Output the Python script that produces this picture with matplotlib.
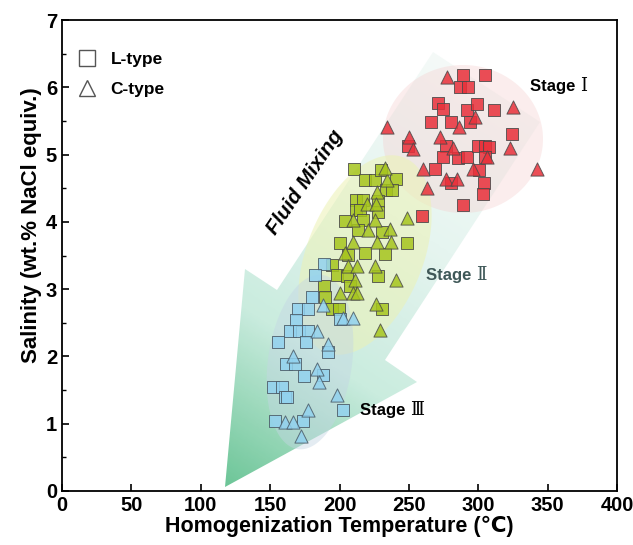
import numpy as np
import matplotlib
matplotlib.use('Agg')
import matplotlib.pyplot as plt
from matplotlib.patches import Polygon
from matplotlib.lines import Line2D
from matplotlib.colors import LinearSegmentedColormap

# Stage I (red)
s1_L_x = [289.1, 304.8, 286.7, 292.7, 271.1, 274.7, 292.0, 299.2, 311.2, 265.9, 280.3, 293.9, 324.0,
          249.5, 276.7, 274.3, 285.5, 292.0, 299.9, 304.8, 307.6, 304.8, 268.7, 300.6, 280.7, 304.2,
          303.5, 289.1, 259.8]
s1_L_y = [6.18, 6.18, 6.01, 6.01, 5.76, 5.67, 5.66, 5.75, 5.66, 5.49, 5.49, 5.49, 5.31,
          5.12, 5.13, 4.97, 4.95, 4.96, 5.12, 5.12, 5.11, 4.96, 4.78, 4.77, 4.58, 4.58,
          4.41, 4.25, 4.08]
s1_C_x = [277.6, 324.7, 234.4, 250.2, 253.1, 286.3, 272.3, 297.6, 281.5, 323.2, 306.4, 260.3, 295.9,
          277.1, 284.8, 263.2, 342.0]
s1_C_y = [6.16, 5.71, 5.41, 5.26, 5.09, 5.41, 5.26, 5.56, 5.10, 5.10, 4.96, 4.79, 4.79,
          4.64, 4.64, 4.50, 4.79]

# Stage II (green)
s2_L_x = [210.4, 218.3, 225.5, 240.4, 233.4, 237.5, 211.8, 217.1, 227.9, 211.8, 214.7, 227.9, 217.1,
          203.9, 230.3, 213.5, 200.3, 218.3, 232.7, 248.8, 194.3, 206.3, 198.3, 205.1, 227.9, 207.5,
          188.8, 189.5, 194.3, 199.5, 230.3, 229.9]
s2_L_y = [4.78, 4.62, 4.62, 4.63, 4.47, 4.47, 4.32, 4.32, 4.31, 4.18, 4.17, 4.15, 4.03,
          4.02, 3.85, 3.88, 3.68, 3.53, 3.52, 3.68, 3.36, 3.51, 3.21, 3.19, 3.19, 3.04,
          3.04, 2.89, 2.71, 2.71, 2.70, 4.77]
s2_C_x = [233.9, 232.7, 226.7, 219.5, 226.2, 209.9, 225.5, 248.8, 220.7, 236.3, 209.9, 226.7, 236.8,
          203.9, 206.3, 212.3, 225.5, 240.4, 211.1, 200.3, 209.9, 212.8, 226.2, 229.1]
s2_C_y = [4.62, 4.80, 4.45, 4.27, 4.27, 4.03, 4.03, 4.05, 3.88, 3.89, 3.70, 3.70, 3.70,
          3.53, 3.34, 3.34, 3.34, 3.14, 3.14, 2.95, 2.94, 2.94, 2.78, 2.39]

# Stage III (blue)
s3_L_x = [188.8, 182.3, 179.9, 170.3, 177.5, 168.4, 164.3, 170.9, 177.5, 155.8, 175.8, 191.4, 161.4,
          167.9, 174.4, 187.8, 152.3, 158.3, 160.7, 162.3, 202.7, 153.4, 173.8, 200.3]
s3_L_y = [3.37, 3.21, 2.88, 2.71, 2.71, 2.54, 2.38, 2.38, 2.38, 2.22, 2.22, 2.06, 1.89,
          1.89, 1.71, 1.72, 1.55, 1.55, 1.39, 1.39, 1.20, 1.04, 1.04, 2.55]
s3_C_x = [188.3, 202.7, 209.9, 183.5, 191.9, 166.7, 183.5, 185.4, 198.3, 177.5, 160.7, 166.2, 172.0]
s3_C_y = [2.76, 2.57, 2.57, 2.38, 2.18, 2.01, 1.81, 1.62, 1.43, 1.21, 1.03, 1.03, 0.82]

plt.rcParams['font.family'] = ['Liberation Sans', 'DejaVu Sans', 'Noto Sans CJK SC']
plt.rcParams['font.weight'] = 'bold'

W, H = 633, 545
fig = plt.figure(figsize=(W / 100, H / 100), dpi=100)
L, B, AW, AH = 62, 54, 555, 471
ax = fig.add_axes([L / W, B / H, AW / W, AH / H])
ax.set_xlim(0, 400)
ax.set_ylim(0, 7)
sx = AW / 400
sy = AH / 7


def px(x, y):
    # picture pixel -> data
    return ((x - L) / sx, (H - B - y) / sy)


def ellipse(cx, cy, a, b, ang):
    t = np.linspace(0, 2 * np.pi, 200)
    th = np.radians(ang)
    dx = a * np.cos(t) * np.cos(th) - b * np.sin(t) * np.sin(th)
    dy = a * np.cos(t) * np.sin(th) + b * np.sin(t) * np.cos(th)
    x0, y0 = px(cx, cy)
    return np.column_stack([x0 + dx / sx, y0 + dy / sy])


# gradient arrow
arrow_px = [(225, 487), (245, 269), (277, 290), (433, 52), (540, 122), (385, 360), (417, 382)]
arrow = Polygon([px(*p) for p in arrow_px], closed=True, facecolor='none', edgecolor='none')
ax.add_patch(arrow)
gx, gy = np.meshgrid(np.linspace(0, 400, 400), np.linspace(0, 7, 400))
tip = px(225, 487)
ux, uy = 0.548, 0.837
t = ((gx - tip[0]) * sx * ux + (gy - tip[1]) * sy * uy) / 480
cmap = LinearSegmentedColormap.from_list('arr', ['#5cbf8c', '#c4eadb', '#e4f4ef', '#f4faf8'])
im = ax.imshow(np.clip(t, 0, 1), extent=[0, 400, 0, 7], origin='lower', cmap=cmap,
               vmin=0, vmax=1, aspect='auto', zorder=1, alpha=0.9)
im.set_clip_path(arrow)

ax.add_patch(Polygon(ellipse(463, 139, 80, 74, 0), closed=True, facecolor='#f5cccc',
                     edgecolor='none', alpha=0.35, zorder=2))
ax.add_patch(Polygon(ellipse(365, 255, 105, 58, 68), closed=True, facecolor='#ecf2b4',
                     edgecolor='none', alpha=0.55, zorder=2))
ax.add_patch(Polygon(ellipse(310, 362, 88, 42, 82), closed=True, facecolor='#c4d6e4',
                     edgecolor='none', alpha=0.45, zorder=2))

ec = '#4a4a4a'
ax.scatter(s1_L_x, s1_L_y, marker='s', s=64, c='#e8303a', edgecolors=ec, linewidths=0.7, alpha=0.85, zorder=3)
ax.scatter(s1_C_x, s1_C_y, marker='^', s=90, c='#e8303a', edgecolors=ec, linewidths=0.7, alpha=0.85, zorder=3)
ax.scatter(s2_L_x, s2_L_y, marker='s', s=64, c='#a6c51e', edgecolors=ec, linewidths=0.7, alpha=0.85, zorder=3)
ax.scatter(s2_C_x, s2_C_y, marker='^', s=90, c='#a6c51e', edgecolors=ec, linewidths=0.7, alpha=0.85, zorder=3)
ax.scatter(s3_L_x, s3_L_y, marker='s', s=64, c='#92d2ef', edgecolors='#4a5a66', linewidths=0.7, alpha=0.85, zorder=3)
ax.scatter(s3_C_x, s3_C_y, marker='^', s=90, c='#92d2ef', edgecolors='#4a5a66', linewidths=0.7, alpha=0.85, zorder=3)

# labels on the plot
ax.text(*px(305, 182), 'Fluid Mixing', rotation=56, ha='center', va='center',
        fontsize=15, fontweight='bold', style='italic', zorder=4)
for (x0, y0), col, num in [((530, 86), 'black', 'Ⅰ'), ((426, 275), '#3f5858', 'Ⅱ'), ((360, 410), 'black', 'Ⅲ')]:
    tx = ax.text(*px(x0, y0), 'Stage ', ha='left', va='center', fontsize=12, fontweight='bold', color=col, zorder=4)
    ax.annotate(num, xycoords=tx, xy=(1, 0.5), va='center', ha='left', fontsize=13,
                fontweight='normal', color=col, family=['DejaVu Serif', 'Noto Sans CJK SC'], zorder=4)

# legend
handles = [Line2D([], [], ls='none', marker='s', mfc='none', mec='#555555', ms=11, mew=1),
           Line2D([], [], ls='none', marker='^', mfc='none', mec='#555555', ms=12, mew=1)]
ax.legend(handles, ['L-type', 'C-type'], loc='upper left', bbox_to_anchor=(-0.014, 0.965),
          frameon=False, prop={'weight': 'bold', 'size': 12.5}, handletextpad=0.35, labelspacing=0.85)

ax.set_xticks(np.arange(0, 401, 50))
ax.set_yticks(np.arange(0, 8, 1))
ax.set_yticks(np.arange(0, 7.01, 0.5), minor=True)
ax.tick_params(axis='both', direction='in', labelsize=14.5, width=1.2, length=5)
ax.tick_params(axis='y', which='minor', direction='in', length=3, width=1)
for lab in ax.get_xticklabels() + ax.get_yticklabels():
    lab.set_fontweight('bold')
for sp in ax.spines.values():
    sp.set_linewidth(1.3)

ax.set_xlabel('Homogenization Temperature (℃)', fontsize=15.5, fontweight='bold', labelpad=1)
ax.set_ylabel('Salinity (wt.% NaCl equiv.)', fontsize=16, fontweight='bold')
ax.yaxis.set_label_coords(-0.036, 0.565)

plt.savefig('out.png', dpi=100)
